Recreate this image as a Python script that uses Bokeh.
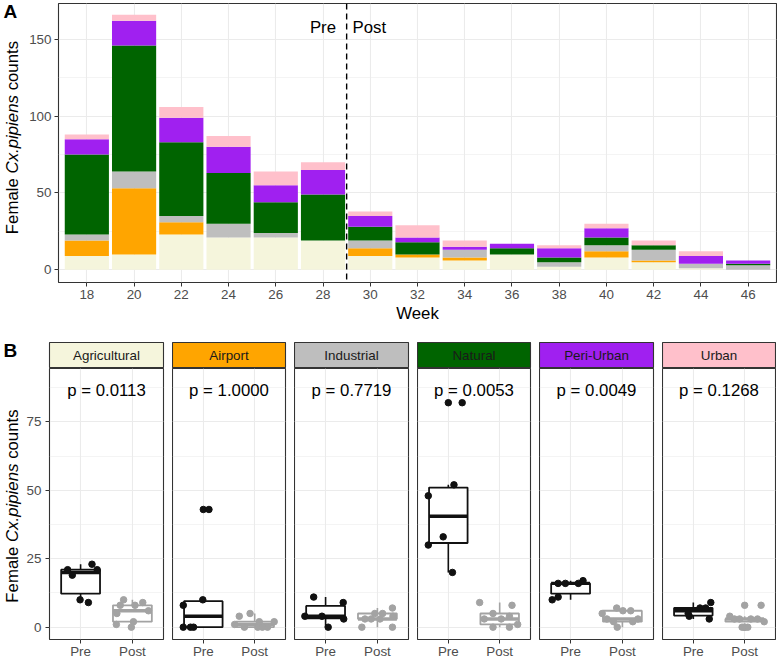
import numpy as np
from bokeh.plotting import figure
from bokeh.models import ColumnDataSource, FixedTicker, Label, Span, Grid
from bokeh.layouts import column, row
from bokeh.embed import file_html
from bokeh.resources import INLINE
from bokeh.core.properties import value

# ---------------- data ----------------
weeks = [18, 20, 22, 24, 26, 28, 30, 32, 34, 36, 38, 40, 42, 44, 46]
land_uses = ["Agricultural", "Airport", "Industrial", "Natural", "Peri-Urban", "Urban"]
agricultural = [9, 10, 23, 21, 21, 19, 9, 8, 6, 10, 2, 8, 5, 1, 0]
airport = [10, 43, 8, 0, 0, 0, 5, 2, 2, 0, 0, 4, 1, 0, 0]
industrial = [4, 11, 4, 9, 3, 0, 5, 0, 5, 0, 3, 4, 7, 3, 3]
natural = [52, 82, 48, 33, 20, 30, 9, 8, 0, 4, 3, 5, 3, 0, 1]
peri_urban = [10, 16, 16, 17, 11, 16, 7, 3, 2, 3, 6, 6, 0, 5, 2]
urban = [3, 4, 7, 7, 9, 5, 3, 8, 4, 0, 2, 3, 3, 3, 0]
p_values = ["p = 0.0113", "p = 1.0000", "p = 0.7719", "p = 0.0053", "p = 0.0049", "p = 0.1268"]
intervention_week = 29
period_labels = ["Pre", "Post"]

# horizontal jitter of the points in panel B
jit_agricultural = [0.15, -0.01, 0.22, -0.25, 0.32, -0.16, 0.20, -0.235, 0.31, -0.17, 0.02, 0.05, -0.30, -0.31, -0.02]
jit_airport = [-0.01, 0.11, -0.39, -0.39, -0.25, -0.19, -0.09, 0.09, 0.38, 0.06, 0.25, -0.30, -0.39, 0.15, -0.20]
jit_industrial = [-0.40, -0.23, -0.07, 0.34, 0.35, 0.05, -0.05, 0.29, 0.10, -0.30, -0.24, 0.30, 0.29, 0.05, -0.12]
jit_natural = [0.11, 0.27, -0.39, -0.10, 0.08, -0.39, -0.39, 0.24, -0.13, 0.19, 0.03, -0.13, -0.30, 0.19, 0.35]
jit_peri_urban = [-0.355, -0.24, -0.10, 0.24, -0.24, 0.15, -0.11, 0.30, -0.17, -0.30, 0.01, 0.16, -0.10, -0.39, 0.20]
jit_urban = [0.31, -0.08, 0.13, 0.24, 0.34, -0.10, -0.20, 0.32, -0.29, 0.06, 0.38, 0.25, -0.10, 0.12, -0.05]

series = [agricultural, airport, industrial, natural, peri_urban, urban]
jitters = [jit_agricultural, jit_airport, jit_industrial, jit_natural, jit_peri_urban, jit_urban]

# ---------------- style ----------------
FONT = "Liberation Sans"
colors = ["#F5F5DC", "#FFA500", "#BEBEBE", "#006400", "#A020F0", "#FFC0CB"]
period_colors = ["#111111", "#A3A3A3"]
GRID = "#EBEBEB"
BORDER = "#333333"
TICK_FS = "13.4px"
TITLE_FS = "16.8px"
TITLE_W = 22


def style_axis(ax):
    ax.axis_line_color = None
    ax.major_tick_line_color = BORDER
    ax.major_tick_out = 4
    ax.major_tick_in = 0
    ax.minor_tick_line_color = None
    ax.major_label_text_font = FONT
    ax.major_label_text_font_size = TICK_FS
    ax.major_label_text_color = "#4D4D4D"
    ax.major_label_standoff = 3


def title_column(height, b_top, b_bottom, center_from_top, tag, tag_top):
    """Narrow figure holding the rotated y title and the panel tag.
    Its frame spans page rows b_top .. height-b_bottom; data y = pixels above frame bottom."""
    fh = height - b_top - b_bottom
    f = figure(width=TITLE_W, height=height, x_range=(0, TITLE_W), y_range=(0, fh),
               x_axis_location=None, y_axis_location=None,
               min_border_left=0, min_border_right=0, min_border_top=b_top, min_border_bottom=b_bottom,
               output_backend="svg", toolbar_location=None)
    for g in f.grid:
        g.visible = False
    f.outline_line_color = None
    fb = height - b_bottom  # frame bottom, page rows from the figure top
    pieces = [("Female", "normal", 0.0), ("Cx.pipiens", "italic", 60.7), ("counts", "normal", 143.8)]
    total = 193.3
    y0 = (fb - center_from_top) - total / 2
    for txt, style, off in pieces:
        f.text(x=[12], y=[y0 + off], text=[txt], angle=np.pi / 2, text_align="left",
               text_baseline="middle", text_font=value(FONT), text_font_size=TITLE_FS,
               text_font_style=style, text_color="black")
    f.text(x=[3], y=[fb - tag_top], text=[tag], text_align="left", text_baseline="top",
           text_font=value(FONT), text_font_size="19px", text_font_style="bold", text_color="black")
    return f


# ---------------- panel A ----------------
src = ColumnDataSource({"week": weeks, **{lu: s for lu, s in zip(land_uses, series)}})
top = figure(width=777 - TITLE_W, height=334, x_range=(16.8, 47.2), y_range=(-8.25, 173.25),
             min_border_left=58 - TITLE_W, min_border_right=1, min_border_top=3, min_border_bottom=52,
             output_backend="svg", toolbar_location=None)
top.background_fill_color = "white"
top.outline_line_color = BORDER
top.outline_line_width = 1.1
top.vbar_stack(land_uses, x="week", width=1.87, color=colors, line_color=None, source=src)
top.add_layout(Span(location=intervention_week, dimension="height", line_color="black",
                    line_dash="6 4", line_width=1.4))
top.add_layout(Label(x=intervention_week - 0.45, y=157.4, text="Pre", text_align="right",
                     text_baseline="middle", text_font=FONT, text_font_size=TITLE_FS, text_color="black"))
top.add_layout(Label(x=intervention_week + 0.25, y=157.4, text="Post", text_align="left",
                     text_baseline="middle", text_font=FONT, text_font_size=TITLE_FS, text_color="black"))

xt = FixedTicker(ticks=weeks, minor_ticks=[])
yt = FixedTicker(ticks=[0, 50, 100, 150], minor_ticks=[25, 75, 125])
top.xaxis.ticker = xt
top.yaxis.ticker = yt
for ax in top.xaxis + top.yaxis:
    style_axis(ax)
top.xaxis.axis_label = "Week"
top.xaxis.axis_label_text_font = FONT
top.xaxis.axis_label_text_font_size = TITLE_FS
top.xaxis.axis_label_text_font_style = "normal"
top.xaxis.axis_label_text_color = "black"
top.xaxis.axis_label_standoff = 2
for g in top.grid:
    g.visible = False
top.add_layout(Grid(dimension=0, ticker=xt, grid_line_color=GRID, grid_line_width=1.1))
top.add_layout(Grid(dimension=1, ticker=yt, grid_line_color=GRID, grid_line_width=1.1,
                    minor_grid_line_color=GRID, minor_grid_line_width=0.55))

top_title = title_column(334, 3, 52, 137, "A", 0)

# ---------------- panel B ----------------
frame_widths = [114, 113, 114, 113, 114, 113]
is_pre = [w < intervention_week for w in weeks]
facets = []
for i, lu in enumerate(land_uses):
    left = 49 - TITLE_W if i == 0 else 0
    right = 9 if i < 5 else 1
    w = left + frame_widths[i] + right

    strip = figure(width=w, height=34, x_range=(0, 1), y_range=(0, 1),
                   x_axis_location=None, y_axis_location=None,
                   min_border_left=left, min_border_right=right, min_border_top=8, min_border_bottom=0,
                   output_backend="svg", toolbar_location=None)
    for g in strip.grid:
        g.visible = False
    strip.background_fill_color = colors[i]
    strip.outline_line_color = BORDER
    strip.outline_line_width = 1.1
    strip.text(x=[0.5], y=[0.5], text=[lu], text_align="center", text_baseline="middle",
               text_font=value(FONT), text_font_size=TICK_FS, text_color="#1A1A1A")

    p = figure(width=w, height=293, x_range=(0.4, 2.6), y_range=(-4.5, 94.5),
               x_axis_location="below", y_axis_location="left" if i == 0 else None,
               min_border_left=left, min_border_right=right, min_border_top=0, min_border_bottom=19,
               output_backend="svg", toolbar_location=None)
    p.outline_line_color = BORDER
    p.outline_line_width = 1.1
    bxt = FixedTicker(ticks=[1, 2], minor_ticks=[])
    byt = FixedTicker(ticks=[0, 25, 50, 75], minor_ticks=[12.5, 37.5, 62.5, 87.5])
    for g in p.grid:
        g.visible = False
    p.add_layout(Grid(dimension=0, ticker=bxt, grid_line_color=GRID, grid_line_width=1.1))
    p.add_layout(Grid(dimension=1, ticker=byt, grid_line_color=GRID, grid_line_width=1.1,
                      minor_grid_line_color=GRID, minor_grid_line_width=0.55))
    p.xaxis.ticker = bxt
    p.xaxis.major_label_overrides = {1: period_labels[0], 2: period_labels[1]}
    for ax in p.xaxis:
        style_axis(ax)
        ax.major_label_standoff = 0
        ax.major_tick_out = 4
        ax.major_label_text_line_height = 0.9
    if i == 0:
        p.yaxis.ticker = byt
        for ax in p.yaxis:
            style_axis(ax)
            ax.major_label_standoff = 4

    vals = series[i]
    jit = jitters[i]
    for k, per in enumerate(period_labels):
        c = k + 1
        col = period_colors[k]
        sel = [j for j in range(len(weeks)) if is_pre[j] == (per == "Pre")]
        v = np.array([vals[j] for j in sel], dtype=float)
        jx = np.array([jit[j] for j in sel], dtype=float)
        q1, med, q3 = np.percentile(v, [25, 50, 75])
        iqr = q3 - q1
        lo_f, hi_f = q1 - 1.5 * iqr, q3 + 1.5 * iqr
        inside = v[(v >= lo_f) & (v <= hi_f)]
        outl = v[(v < lo_f) | (v > hi_f)]
        p.segment(x0=[c, c], y0=[q3, q1], x1=[c, c], y1=[inside.max(), inside.min()],
                  line_color=col, line_width=1.6)
        p.quad(left=[c - 0.375], right=[c + 0.375], bottom=[q1], top=[q3],
               fill_color="white", line_color=col, line_width=1.8)
        p.segment(x0=[c - 0.375], y0=[med], x1=[c + 0.375], y1=[med], line_color=col, line_width=3.4)
        if len(outl):
            p.scatter(x=[c] * len(outl), y=outl, size=6.5, color=col)
        p.scatter(x=c + jx, y=v, size=6.5, color=col)

    p.text(x=[1.5], y=[86.5], text=[p_values[i]], text_align="center", text_baseline="middle",
           text_font=value(FONT), text_font_size=TITLE_FS, text_color="black")
    facets.append(column(strip, p))

bottom_title = title_column(327, 0, 0, 505.5 - 334, "B", 339.5 - 334)

layout = column(row(top_title, top), row(bottom_title, *facets))
open("out.html", "w").write(file_html(layout, INLINE))
